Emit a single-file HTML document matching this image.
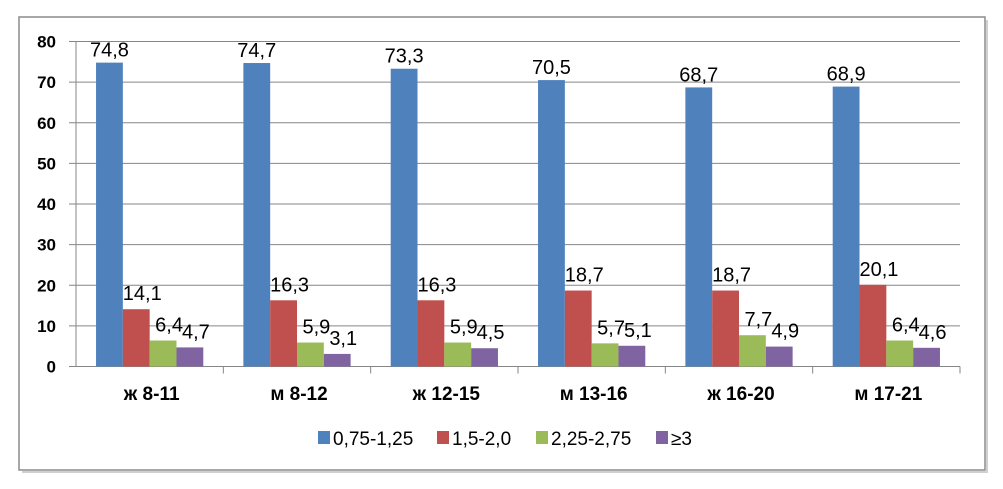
<!DOCTYPE html>
<html><head><meta charset="utf-8"><style>
body{margin:0;background:#fff;}
svg{display:block;font-family:"Liberation Sans",sans-serif;}
</style></head><body>
<svg id="c" width="1003" height="489">
<rect x="19" y="17" width="966" height="453" fill="#fff" stroke="#8c8c8c" stroke-width="1.5"/>
<line x1="22" y1="472" x2="988" y2="472" stroke="#d0d0d0" stroke-width="2"/>
<line x1="987" y1="20" x2="987" y2="472" stroke="#d0d0d0" stroke-width="2"/>
<g id="grid"></g><g id="bars"></g><g id="labels"></g><g id="axes"></g><g id="legend"></g>
</svg>
<script>
const categories=["ж 8-11","м 8-12","ж 12-15","м 13-16","ж 16-20","м 17-21"];
const seriesNames=["0,75-1,25","1,5-2,0","2,25-2,75","≥3"];
const s1=[74.8,74.7,73.3,70.5,68.7,68.9];
const s2=[14.1,16.3,16.3,18.7,18.7,20.1];
const s3=[6.4,5.9,5.9,5.7,7.7,6.4];
const s4=[4.7,3.1,4.5,5.1,4.9,4.6];
const yTicks=[0,10,20,30,40,50,60,70,80];
const colors=["#4f81bd","#c0504d","#9bbb59","#8064a2"];
const series=[s1,s2,s3,s4];
const NS="http://www.w3.org/2000/svg";
const X0=76,X1=960,Y0=366.5,Y1=41.5,YMAX=80;
const cw=(X1-X0)/categories.length;
const y=v=>Y0-(v/YMAX)*(Y0-Y1);
const bw=cw*0.182, pad=cw*0.136;
const bx=(ci,si)=>X0+ci*cw+pad+si*bw;
function el(tag,a,p,txt){const e=document.createElementNS(NS,tag);for(const k in a)e.setAttribute(k,a[k]);if(txt!==undefined)e.textContent=txt;document.getElementById(p).appendChild(e);return e;}
yTicks.forEach(t=>{
 const g=el("line",{x1:X0-7,x2:X1,y1:y(t),y2:y(t),stroke:"#868686","stroke-width":1},"grid");
 
 
 const l=el("text",{x:56,y:y(t)+6,"text-anchor":"end","font-size":17,"font-weight":"bold",fill:"#000"},"axes",String(t));
 
 
});
el("line",{x1:X0,x2:X0,y1:Y1,y2:Y0,stroke:"#868686"},"axes");
categories.forEach((c,ci)=>{
 const tx=X0+(ci+1)*cw;
 el("line",{x1:tx,x2:tx,y1:Y0,y2:Y0+7,stroke:"#868686"},"axes");
 const t=el("text",{x:X0+ci*cw+cw/2+2,y:400,"text-anchor":"middle","font-size":19,"font-weight":"bold"},"axes",c);
 
 
 series.forEach((s,si)=>{
  const v=s[ci];
  const r=el("rect",{x:bx(ci,si),y:y(v),width:bw,height:Y0-y(v),fill:colors[si]},"bars");
  
  
  const lb=el("text",{x:bx(ci,si)+bw/2+(si==0?0:6),y:y(v)-(si==0?6:9),"text-anchor":"middle","font-size":20,fill:"#000"},"labels",String(v).replace(".",","));
  
  
 });
});
const lx=[318,437,536,656];
seriesNames.forEach((n,i)=>{
 const r=el("rect",{x:lx[i],y:431,width:12,height:13,fill:colors[i]},"legend");
 
 
 const t=el("text",{x:lx[i]+15,y:445,"font-size":19,fill:"#000"},"legend",n);
 
 
});
</script>
</body></html>
